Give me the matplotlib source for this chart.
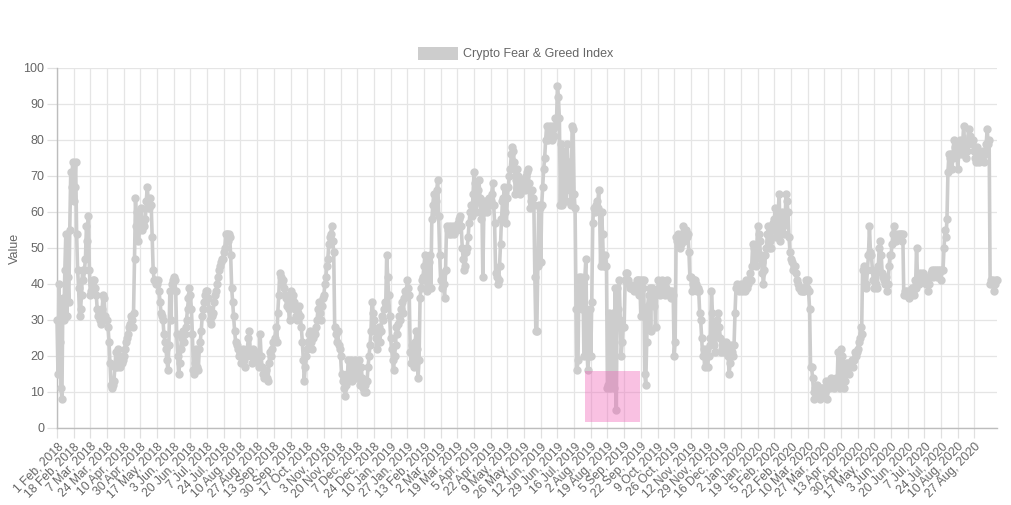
import matplotlib
matplotlib.use("Agg")
import matplotlib.pyplot as plt
from matplotlib.patches import Rectangle

tick_labels = [
    "1 Feb, 2018", "18 Feb, 2018", "7 Mar, 2018", "24 Mar, 2018", "10 Apr, 2018",
    "30 Apr, 2018", "17 May, 2018", "3 Jun, 2018", "20 Jun, 2018", "7 Jul, 2018",
    "24 Jul, 2018", "10 Aug, 2018", "27 Aug, 2018", "13 Sep, 2018", "30 Sep, 2018",
    "17 Oct, 2018", "3 Nov, 2018", "20 Nov, 2018", "7 Dec, 2018", "24 Dec, 2018",
    "10 Jan, 2019", "27 Jan, 2019", "13 Feb, 2019", "2 Mar, 2019", "19 Mar, 2019",
    "5 Apr, 2019", "22 Apr, 2019", "9 May, 2019", "26 May, 2019", "12 Jun, 2019",
    "29 Jun, 2019", "16 Jul, 2019", "2 Aug, 2019", "19 Aug, 2019", "5 Sep, 2019",
    "22 Sep, 2019", "9 Oct, 2019", "26 Oct, 2019", "12 Nov, 2019", "29 Nov, 2019",
    "16 Dec, 2019", "2 Jan, 2020", "19 Jan, 2020", "5 Feb, 2020", "22 Feb, 2020",
    "10 Mar, 2020", "27 Mar, 2020", "13 Apr, 2020", "30 Apr, 2020", "17 May, 2020",
    "3 Jun, 2020", "20 Jun, 2020", "7 Jul, 2020", "24 Jul, 2020", "10 Aug, 2020",
    "27 Aug, 2020",
]
tick_step = 17  # one label shown every 17 daily entries

# Daily index values, in blocks of 17 entries (one block per shown label)
values = (
    [30, 15, 40, 24, 11, 8, 36, 30, 44, 54, 31, 42, 35, 55, 71, 67, 74]
    + [63, 67, 74, 54, 44, 39, 31, 33, 37, 44, 41, 44, 47, 56, 52, 59, 44]
    + [37, 38, 40, 41, 41, 39, 37, 33, 31, 32, 30, 29, 33, 37, 36, 31, 30]
    + [30, 28, 24, 18, 12, 11, 12, 13, 17, 21, 17, 22, 19, 17, 20, 18, 19]
    + [20, 22, 24, 25, 26, 28, 29, 31, 30, 28, 32, 47, 64, 56, 60, 52, 55]
    + [58, 61, 55, 57, 56, 58, 63, 67, 63, 61, 64, 62, 53, 44, 41, 41, 40]
    + [40, 41, 38, 35, 32, 31, 30, 26, 24, 22, 19, 16, 23, 38, 30, 40, 41]
    + [42, 41, 38, 26, 20, 15, 18, 22, 25, 27, 24, 26, 28, 30, 33, 36, 39]
    + [37, 33, 26, 16, 15, 18, 22, 17, 16, 22, 24, 27, 31, 33, 35, 37, 38]
    + [38, 36, 33, 30, 29, 31, 32, 35, 37, 38, 40, 42, 44, 45, 46, 47, 47]
    + [49, 50, 54, 54, 52, 54, 53, 48, 39, 35, 31, 27, 24, 23, 22, 20, 21]
    + [20, 18, 20, 22, 19, 17, 20, 22, 25, 27, 21, 20, 18, 22, 20, 19, 21]
    + [20, 18, 17, 26, 20, 17, 15, 14, 15, 16, 14, 13, 18, 21, 20, 22, 24]
    + [24, 25, 28, 24, 32, 37, 43, 42, 40, 41, 39, 37, 36, 34, 36, 33, 30]
    + [38, 36, 34, 37, 35, 33, 31, 30, 32, 34, 31, 28, 24, 19, 13, 17, 20]
    + [22, 24, 26, 27, 24, 22, 25, 27, 26, 28, 30, 33, 35, 32, 30, 34, 36]
    + [37, 40, 42, 45, 47, 51, 53, 54, 56, 52, 49, 28, 26, 24, 27, 23, 22]
    + [20, 15, 13, 14, 11, 9, 12, 15, 19, 14, 17, 19, 13, 15, 18, 19, 16]
    + [14, 16, 19, 12, 17, 14, 11, 10, 12, 10, 13, 17, 20, 23, 27, 35, 32]
    + [30, 27, 25, 22, 26, 28, 24, 27, 31, 30, 33, 35, 34, 48, 42, 37, 31]
    + [25, 22, 19, 16, 20, 23, 28, 26, 29, 31, 30, 33, 35, 32, 36, 38, 37]
    + [41, 39, 37, 21, 18, 23, 21, 17, 24, 27, 22, 14, 19, 36, 39, 41, 42]
    + [45, 48, 42, 38, 40, 46, 48, 39, 58, 62, 65, 60, 63, 66, 69, 59, 48]
    + [41, 39, 43, 40, 36, 44, 56, 55, 54, 55, 56, 54, 55, 56, 54, 55, 56]
    + [55, 57, 58, 59, 56, 50, 47, 44, 45, 49, 50, 53, 57, 60, 62, 59, 65]
    + [71, 68, 60, 63, 66, 69, 64, 58, 62, 42, 60, 63, 61, 60, 62, 64, 62]
    + [63, 65, 68, 62, 57, 43, 42, 40, 41, 45, 51, 58, 63, 64, 67, 60, 57]
    + [64, 67, 70, 72, 76, 78, 77, 74, 65, 69, 72, 70, 67, 65, 69, 67, 68]
    + [69, 66, 70, 71, 72, 68, 61, 63, 66, 64, 62, 42, 27, 27, 45, 62, 61]
    + [46, 62, 67, 72, 75, 80, 84, 80, 83, 84, 82, 80, 84, 83, 81, 86, 84]
    + [95, 92, 86, 62, 79, 62, 77, 74, 70, 63, 79, 72, 74, 66, 62, 84, 83]
    + [65, 61, 33, 16, 19, 42, 37, 42, 33, 40, 20, 42, 47, 23, 16, 20, 33]
    + [20, 35, 57, 61, 60, 62, 63, 61, 66, 60, 45, 60, 54, 45, 45, 48, 45]
    + [11, 12, 32, 11, 31, 12, 32, 11, 39, 5, 39, 33, 41, 30, 20, 24, 28]
    + [28, 41, 43, 43, 41, 40, 39, 39, 39, 39, 38, 39, 40, 41, 41, 37, 41]
    + [31, 41, 39, 41, 15, 12, 24, 34, 37, 39, 27, 39, 37, 34, 38, 28, 38]
    + [38, 41, 39, 37, 39, 41, 40, 38, 37, 39, 41, 38, 37, 38, 36, 38, 37]
    + [20, 24, 53, 52, 54, 53, 50, 51, 54, 56, 52, 54, 55, 53, 54, 49, 42]
    + [42, 38, 40, 41, 41, 40, 38, 39, 38, 32, 30, 25, 20, 22, 17, 20, 22]
    + [17, 20, 23, 25, 38, 32, 28, 23, 21, 27, 30, 32, 28, 25, 21, 22, 24]
    + [21, 23, 24, 23, 20, 15, 18, 23, 21, 20, 23, 32, 39, 40, 39, 38, 39]
    + [40, 38, 39, 40, 38, 41, 39, 40, 41, 43, 41, 45, 51, 50, 47, 45, 49]
    + [56, 54, 52, 48, 46, 43, 40, 44, 48, 50, 54, 56, 50, 52, 50, 55, 57]
    + [58, 61, 53, 56, 60, 65, 52, 55, 60, 56, 54, 58, 65, 63, 60, 53, 49]
    + [47, 46, 44, 45, 45, 43, 41, 40, 39, 39, 38, 39, 38, 38, 39, 41, 39]
    + [41, 38, 33, 17, 17, 14, 10, 8, 11, 9, 12, 10, 11, 8, 11, 9, 11]
    + [11, 10, 13, 8, 11, 11, 12, 14, 12, 12, 11, 12, 14, 12, 21, 12, 11]
    + [22, 20, 15, 11, 13, 18, 16, 18, 15, 17, 18, 19, 17, 19, 21, 20, 21]
    + [22, 24, 25, 28, 26, 44, 45, 40, 39, 40, 44, 48, 56, 49, 48, 44, 41]
    + [39, 43, 40, 39, 45, 50, 52, 48, 43, 42, 41, 40, 42, 38, 40, 45, 48]
    + [48, 51, 54, 56, 54, 52, 53, 54, 53, 54, 54, 52, 54, 37, 38, 37, 38]
    + [37, 36, 38, 37, 39, 38, 37, 41, 39, 50, 42, 41, 40, 43, 41, 42, 43]
    + [41, 42, 40, 41, 38, 40, 42, 43, 44, 42, 44, 43, 44, 42, 44, 43, 44]
    + [41, 44, 44, 50, 55, 53, 58, 71, 76, 75, 76, 72, 75, 80, 78, 79, 77]
    + [72, 76, 80, 78, 76, 79, 84, 79, 75, 77, 79, 83, 81, 80, 80, 79, 80]
    + [77, 75, 74, 78, 76, 74, 75, 76, 75, 77, 74, 76, 79, 83, 79, 80, 40]
    + [41, 40, 41, 38, 40, 41, 41]
)

series_name = "Crypto Fear & Greed Index"
y_label = "Value"
y_ticks = [0, 10, 20, 30, 40, 50, 60, 70, 80, 90, 100]

# highlighted region (in label-index / value units)
highlight_x = (538.5, 594.5)
highlight_y = (1.6, 15.8)

plt.rcParams["font.family"] = ["Liberation Sans", "DejaVu Sans"]

W, H = 1011, 505
fig = plt.figure(figsize=(W / 100, H / 100), dpi=100)
ax = fig.add_axes([57 / W, 1 - 428 / H, (997 - 57) / W, (428 - 68) / H])

xs = list(range(len(values)))
line_col = "#cdcdcd"
ax.plot(xs, values, color=line_col, lw=2.6, marker="o", ms=5.0,
        mfc=line_col, mec=line_col, zorder=3, clip_on=False)

ax.add_patch(Rectangle((highlight_x[0], highlight_y[0]),
                       highlight_x[1] - highlight_x[0],
                       highlight_y[1] - highlight_y[0],
                       facecolor=(0.94, 0.40, 0.72, 0.40), edgecolor="none",
                       zorder=4))

ax.set_xlim(0, len(values) - 1)
ax.set_ylim(0, 100)

tick_pos = [i * tick_step for i in range(len(tick_labels))]
ax.set_xticks(tick_pos)
ax.set_xticklabels(tick_labels, rotation=45, ha="right", rotation_mode="anchor",
                   fontsize=8.7, color="#666666")
ax.set_yticks(y_ticks)
ax.set_yticklabels([str(v) for v in y_ticks], fontsize=9.0, color="#666666")

ax.grid(True, color="#e5e5e5", lw=0.9, zorder=0)
ax.set_axisbelow(True)
for s in ["top", "right"]:
    ax.spines[s].set_visible(False)
for s in ["left", "bottom"]:
    ax.spines[s].set_color("#bdbdbd")
    ax.spines[s].set_linewidth(1.0)
ax.tick_params(axis="both", length=7, color="#e0e0e0", width=0.9, pad=2)

fig.text(15 / W, 1 - 248 / H, y_label, fontsize=9.0, color="#666666",
         rotation=90, ha="center", va="center")

# legend box drawn like Chart.js
fig.patches.append(Rectangle((418 / W, 1 - 60 / H), 40 / W, 13 / H,
                             transform=fig.transFigure, facecolor="#cdcdcd",
                             edgecolor="none"))
fig.text(463 / W, 1 - 54 / H, series_name, fontsize=9.0, color="#666666",
         ha="left", va="center")

fig.savefig("out.png", dpi=100, facecolor="white")
